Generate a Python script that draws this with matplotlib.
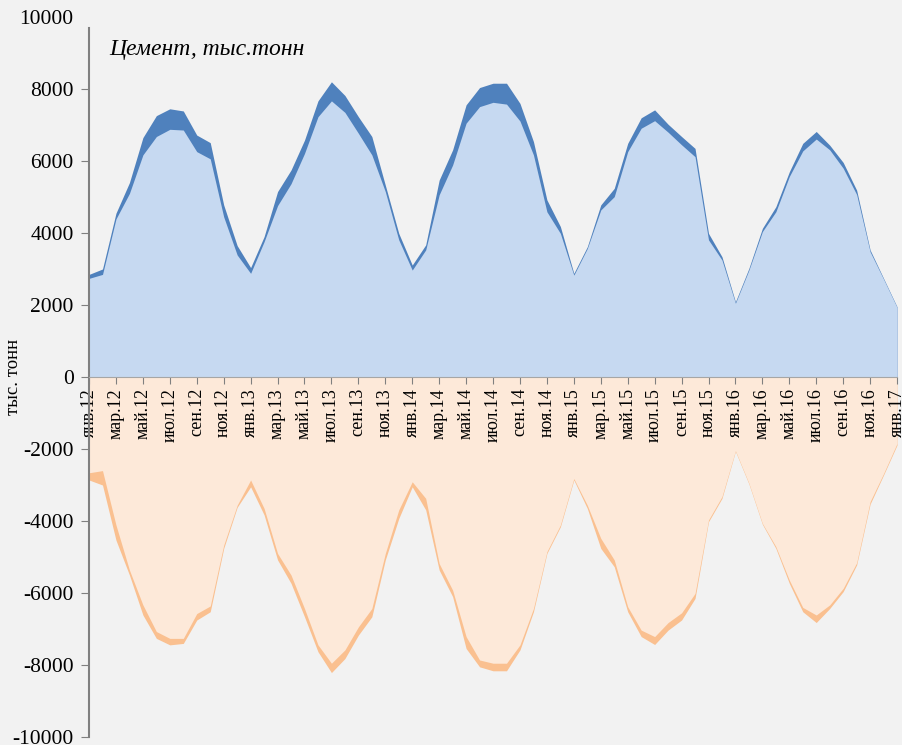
import matplotlib
matplotlib.use('Agg')
import matplotlib.pyplot as plt

plt.rcParams['font.family'] = ['Liberation Serif', 'DejaVu Serif']
plt.rcParams['axes.unicode_minus'] = False

# months from янв.12 to янв.17
months = ['янв.', 'фев.', 'мар.', 'апр.', 'май.', 'июн.',
          'июл.', 'авг.', 'сен.', 'окт.', 'ноя.', 'дек.']
years = ['12', '13', '14', '15', '16', '17']
month_labels = [m + y for y in years for m in months][:61]

# upper part, thousand tonnes
upper_back = [2850, 3000, 4550, 5400, 6650, 7260, 7450, 7390, 6720, 6510,
              4780, 3650, 3040, 3900, 5150, 5750, 6580, 7670, 8200, 7820,
              7230, 6680, 5330, 3990, 3110, 3670, 5470, 6310, 7560, 8040,
              8160, 8160, 7600, 6540, 4920, 4180, 2880, 3620, 4780, 5240,
              6490, 7200, 7420, 7020, 6680, 6350, 3990, 3340, 2090, 3020,
              4130, 4730, 5700, 6490, 6820, 6440, 5960, 5190, 3530, 2740,
              1950]
upper_front = [2740, 2850, 4390, 5100, 6170, 6680, 6880, 6860, 6260, 6060,
               4450, 3390, 2880, 3760, 4760, 5370, 6210, 7230, 7670, 7350,
               6770, 6170, 5150, 3810, 2970, 3530, 5060, 5890, 7050, 7510,
               7630, 7580, 7110, 6170, 4590, 3990, 2830, 3570, 4640, 5010,
               6260, 6910, 7120, 6800, 6450, 6120, 3810, 3250, 2050, 2970,
               4040, 4590, 5570, 6280, 6610, 6310, 5800, 5070, 3480, 2720,
               1935]

# lower part
lower_back = [-2860, -3000, -4530, -5500, -6610, -7260, -7440, -7400, -6750, -6520,
              -4760, -3620, -3050, -3830, -5080, -5730, -6660, -7630, -8210, -7820,
              -7170, -6660, -5080, -3930, -3050, -3690, -5360, -6100, -7540, -8050,
              -8160, -8160, -7580, -6520, -4900, -4160, -2860, -3650, -4760, -5270,
              -6520, -7210, -7430, -7030, -6750, -6150, -4020, -3370, -2065, -2970,
              -4090, -4760, -5730, -6520, -6820, -6430, -5960, -5220, -3530, -2720,
              -1890]
lower_front = [-2660, -2600, -4110, -5360, -6330, -7070, -7260, -7260, -6570, -6360,
               -4670, -3560, -2860, -3650, -4900, -5500, -6430, -7440, -7950, -7580,
               -6940, -6430, -4900, -3690, -2910, -3370, -5180, -5920, -7210, -7860,
               -7950, -7950, -7440, -6430, -4850, -4110, -2820, -3560, -4480, -5080,
               -6380, -7030, -7210, -6820, -6550, -6010, -3970, -3320, -2046, -2950,
               -4065, -4710, -5640, -6400, -6610, -6330, -5870, -5160, -3460, -2680,
               -1843]

x = list(range(len(month_labels)))

fig = plt.figure(figsize=(9.02, 7.45), dpi=100)
fig.patch.set_facecolor('#F2F2F2')
ax = fig.add_axes([0.0987, 0.0107, 0.8958, 0.9665])
ax.set_facecolor('#F2F2F2')

ax.fill_between(x, 0, upper_back, color='#4F81BD', lw=0)
ax.fill_between(x, 0, upper_front, color='#C6D9F1', lw=0)
ax.fill_between(x, 0, lower_back, color='#FAC090', lw=0)
ax.fill_between(x, 0, lower_front, color='#FDE9D9', lw=0)

# spines first: set_position resets the ticks
for s in ['top', 'right']:
    ax.spines[s].set_visible(False)
ax.spines['bottom'].set_position(('data', 0))
ax.spines['bottom'].set_color('#A6A6A6')
ax.spines['left'].set_color('#808080')
ax.spines['left'].set_linewidth(1.5)
ax.spines['left'].set_bounds(-10000, 9700)

ax.set_xlim(0, 60)
ax.set_ylim(-10000, 10000)
ax.set_yticks(range(-10000, 10001, 2000))
ax.tick_params(axis='y', labelsize=15.5, length=6, color='#808080', pad=5)
ax.yaxis.get_major_ticks()[-1].tick1line.set_visible(False)

ax.set_xticks(x[::2])
ax.set_xticklabels(month_labels[::2], fontsize=13)
ax.tick_params(axis='x', length=5, color='#808080', pad=3, labelrotation=90)
for lab in ax.get_xticklabels():
    lab.set_va('top')
    lab.set_ha('center')

ax.set_ylabel('тыс. тонн', fontsize=13.5)
ax.yaxis.set_label_coords(-0.083, 0.5)

ax.text(0.025, 0.955, 'Цемент, тыс.тонн', transform=ax.transAxes,
        fontsize=17, style='italic', ha='left', va='center')

fig.savefig('out.png', dpi=100, facecolor=fig.get_facecolor())
